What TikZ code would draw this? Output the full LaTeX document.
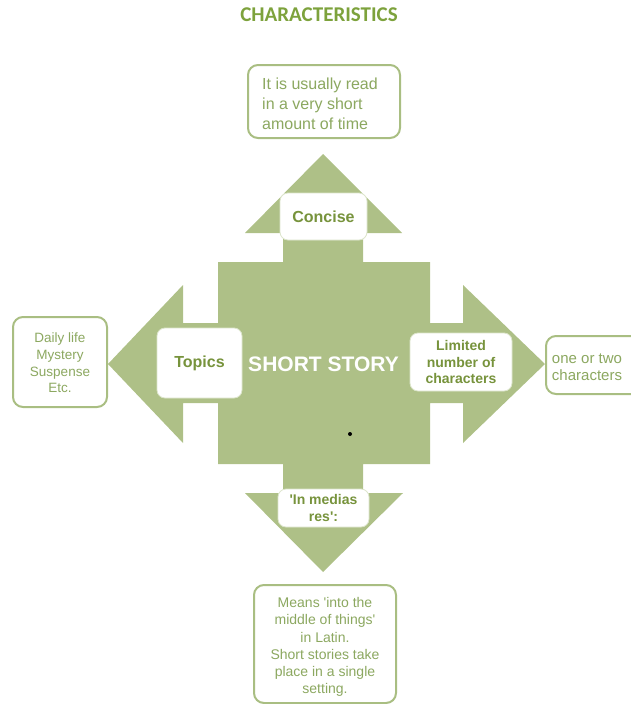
\documentclass[tikz,border=0pt]{standalone}
\usepackage{fontspec}
\setmainfont{Liberation Sans}
\newfontfamily\titlefont{Carlito}
\definecolor{leaf}{HTML}{AEC087}
\definecolor{labelgreen}{HTML}{77933C}
\definecolor{notegreen}{HTML}{8CA860}
\definecolor{titlegreen}{HTML}{7DA23C}
\definecolor{noteedge}{HTML}{A9BE82}
\definecolor{paleedge}{HTML}{DCE5CB}
\newcommand{\sq}{\textquotesingle}
\tikzset{
  labelbox/.style={draw=paleedge, line width=0.8pt, fill=white, rounded corners=8pt,
    text=labelgreen, font=\bfseries, align=center, inner sep=0pt},
  noteframe/.style={draw=noteedge, line width=2pt, fill=white, rounded corners=10pt},
  notetext/.style={text=notegreen, align=center, inner sep=0pt},
}
\begin{document}
\begin{tikzpicture}[x=1pt, y=-1pt]
\useasboundingbox (0,0) rectangle (630,704);

% heading
\node[font=\titlefont\bfseries\fontsize{21}{24}\selectfont, text=titlegreen] (title) at (319,15) {CHARACTERISTICS};

% the four-way arrow body
\fill[leaf] (323,154) -- (402,233) -- (363,233) -- (363,262) -- (430,262) -- (430,323)
  -- (463,323) -- (463,285) -- (545,364) -- (463,443) -- (463,403) -- (430,403)
  -- (430,464) -- (363,464) -- (363,493) -- (403,493) -- (323,572) -- (245,493)
  -- (283,493) -- (283,464) -- (218,464) -- (218,403) -- (183,403) -- (183,443)
  -- (108,364) -- (183,285) -- (183,323) -- (218,323) -- (218,262) -- (283,262)
  -- (283,233) -- (245,233) -- cycle;
\fill (350,434) circle (2pt);

\node[font=\bfseries\fontsize{21}{24}\selectfont, text=white] (story) at (323.5,364) {SHORT STORY};

% labels on the arrows
\node[labelbox, minimum width=87pt, minimum height=47pt, font=\bfseries\fontsize{16}{19}\selectfont] (concise) at (323.5,216.5) {Concise};
\node[labelbox, minimum width=85pt, minimum height=70pt, font=\bfseries\fontsize{16}{19}\selectfont] (topics) at (199.5,363) {\raisebox{-2pt}{Topics}};
\node[labelbox, minimum width=102pt, minimum height=58pt, font=\bfseries\fontsize{14}{16.5}\selectfont] (limited) at (461,362) {Limited\\number of\\characters};
\node[labelbox, minimum width=91pt, minimum height=38pt, font=\bfseries\fontsize{14}{17}\selectfont] (medias) at (323.5,508) {\sq In medias\\res\sq:};

% explanatory notes: frames, then their texts
\draw[noteframe] (248,65) rectangle (400,138);
\draw[noteframe] (13,317) rectangle (107,407);
\draw[noteframe] (546,336) rectangle (650,394);
\draw[noteframe] (254,585) rectangle (396,703);

\node[notetext, align=left, font=\fontsize{16}{20}\selectfont] (readnote) at (320,104) {It is usually read\\in a very short\\amount of time};
\node[notetext, font=\fontsize{13.5}{16.7}\selectfont] (topicnote) at (60,363) {Daily life\\Mystery\\Suspense\\Etc.};
\node[notetext, align=left, font=\fontsize{15}{17}\selectfont] (charnote) at (587,367) {one or two\\characters};
\node[notetext, font=\fontsize{14}{17.2}\selectfont] (latinnote) at (325,647) {Means \sq into the\\middle of things\sq\\in Latin.\\Short stories take\\place in a single\\setting.};
\end{tikzpicture}
\end{document}
